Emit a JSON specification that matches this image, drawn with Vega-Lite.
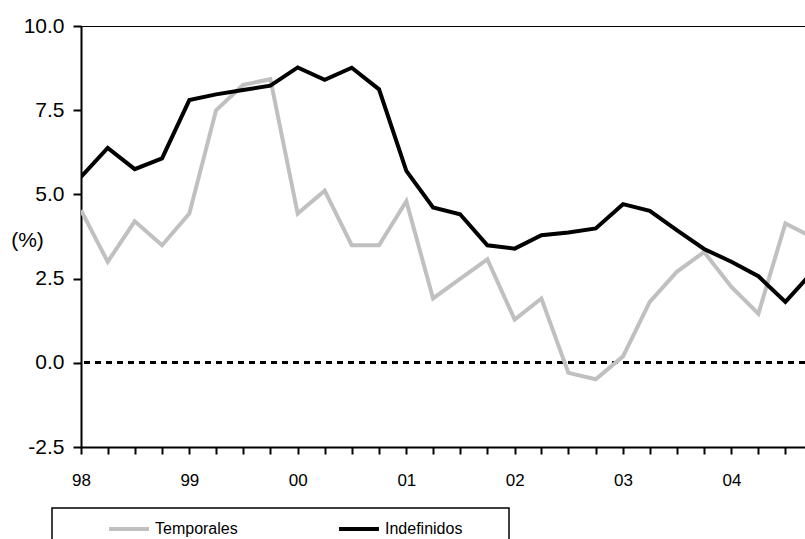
{
  "$schema": "https://vega.github.io/schema/vega-lite/v6.json",
  "width": 724,
  "height": 421,
  "autosize": {"type": "none"},
  "padding": {"left": 81, "top": 26, "right": 0, "bottom": 92},
  "background": "white",
  "config": {
    "view": {"stroke": "black", "strokeWidth": 1},
    "font": "Liberation Sans",
    "axis": {"grid": false, "domainColor": "black", "tickColor": "black", "labelColor": "black", "titleColor": "black"},
    "legend": {"strokeWidth": 1.5}
  },
  "data": {
    "values": [
      {"fecha": "1998-01-01", "serie": "Temporales", "valor": 4.53},
      {"fecha": "1998-04-01", "serie": "Temporales", "valor": 3.0},
      {"fecha": "1998-07-01", "serie": "Temporales", "valor": 4.2},
      {"fecha": "1998-10-01", "serie": "Temporales", "valor": 3.49},
      {"fecha": "1999-01-01", "serie": "Temporales", "valor": 4.43},
      {"fecha": "1999-04-01", "serie": "Temporales", "valor": 7.5},
      {"fecha": "1999-07-01", "serie": "Temporales", "valor": 8.25},
      {"fecha": "1999-10-01", "serie": "Temporales", "valor": 8.42},
      {"fecha": "2000-01-01", "serie": "Temporales", "valor": 4.43},
      {"fecha": "2000-04-01", "serie": "Temporales", "valor": 5.11},
      {"fecha": "2000-07-01", "serie": "Temporales", "valor": 3.49},
      {"fecha": "2000-10-01", "serie": "Temporales", "valor": 3.49},
      {"fecha": "2001-01-01", "serie": "Temporales", "valor": 4.8},
      {"fecha": "2001-04-01", "serie": "Temporales", "valor": 1.91},
      {"fecha": "2001-07-01", "serie": "Temporales", "valor": 2.49},
      {"fecha": "2001-10-01", "serie": "Temporales", "valor": 3.07},
      {"fecha": "2002-01-01", "serie": "Temporales", "valor": 1.28},
      {"fecha": "2002-04-01", "serie": "Temporales", "valor": 1.91},
      {"fecha": "2002-07-01", "serie": "Temporales", "valor": -0.3},
      {"fecha": "2002-10-01", "serie": "Temporales", "valor": -0.49},
      {"fecha": "2003-01-01", "serie": "Temporales", "valor": 0.19},
      {"fecha": "2003-04-01", "serie": "Temporales", "valor": 1.81},
      {"fecha": "2003-07-01", "serie": "Temporales", "valor": 2.7},
      {"fecha": "2003-10-01", "serie": "Temporales", "valor": 3.29},
      {"fecha": "2004-01-01", "serie": "Temporales", "valor": 2.25},
      {"fecha": "2004-04-01", "serie": "Temporales", "valor": 1.46},
      {"fecha": "2004-07-01", "serie": "Temporales", "valor": 4.14},
      {"fecha": "2004-10-01", "serie": "Temporales", "valor": 3.72},
      {"fecha": "1998-01-01", "serie": "Indefinidos", "valor": 5.52},
      {"fecha": "1998-04-01", "serie": "Indefinidos", "valor": 6.38},
      {"fecha": "1998-07-01", "serie": "Indefinidos", "valor": 5.75},
      {"fecha": "1998-10-01", "serie": "Indefinidos", "valor": 6.07},
      {"fecha": "1999-01-01", "serie": "Indefinidos", "valor": 7.8},
      {"fecha": "1999-04-01", "serie": "Indefinidos", "valor": 7.97},
      {"fecha": "1999-07-01", "serie": "Indefinidos", "valor": 8.1},
      {"fecha": "1999-10-01", "serie": "Indefinidos", "valor": 8.23},
      {"fecha": "2000-01-01", "serie": "Indefinidos", "valor": 8.77},
      {"fecha": "2000-04-01", "serie": "Indefinidos", "valor": 8.4},
      {"fecha": "2000-07-01", "serie": "Indefinidos", "valor": 8.76},
      {"fecha": "2000-10-01", "serie": "Indefinidos", "valor": 8.12},
      {"fecha": "2001-01-01", "serie": "Indefinidos", "valor": 5.7},
      {"fecha": "2001-04-01", "serie": "Indefinidos", "valor": 4.61},
      {"fecha": "2001-07-01", "serie": "Indefinidos", "valor": 4.41},
      {"fecha": "2001-10-01", "serie": "Indefinidos", "valor": 3.49},
      {"fecha": "2002-01-01", "serie": "Indefinidos", "valor": 3.39},
      {"fecha": "2002-04-01", "serie": "Indefinidos", "valor": 3.79},
      {"fecha": "2002-07-01", "serie": "Indefinidos", "valor": 3.87},
      {"fecha": "2002-10-01", "serie": "Indefinidos", "valor": 3.99},
      {"fecha": "2003-01-01", "serie": "Indefinidos", "valor": 4.71},
      {"fecha": "2003-04-01", "serie": "Indefinidos", "valor": 4.51},
      {"fecha": "2003-07-01", "serie": "Indefinidos", "valor": 3.94},
      {"fecha": "2003-10-01", "serie": "Indefinidos", "valor": 3.38},
      {"fecha": "2004-01-01", "serie": "Indefinidos", "valor": 3.0},
      {"fecha": "2004-04-01", "serie": "Indefinidos", "valor": 2.57},
      {"fecha": "2004-07-01", "serie": "Indefinidos", "valor": 1.81},
      {"fecha": "2004-10-01", "serie": "Indefinidos", "valor": 2.7}
    ]
  },
  "layer": [
    {
      "mark": {"type": "rule", "strokeDash": [6, 5], "strokeWidth": 2.5, "color": "black"},
      "encoding": {"y": {"datum": 0, "type": "quantitative"}}
    },
    {
      "mark": {"type": "line", "strokeWidth": 4, "clip": true},
      "encoding": {
        "x": {
          "field": "fecha",
          "type": "temporal",
          "scale": {"type": "utc", "domain": [{"year": 1998, "month": 1, "date": 1, "utc": true}, {"year": 2004, "month": 9, "date": 5, "utc": true}]},
          "axis": {
            "title": null,
            "values": [
              {"year": 1998, "month": 1, "date": 1, "utc": true}, {"year": 1998, "month": 4, "date": 1, "utc": true}, {"year": 1998, "month": 7, "date": 1, "utc": true}, {"year": 1998, "month": 10, "date": 1, "utc": true},
              {"year": 1999, "month": 1, "date": 1, "utc": true}, {"year": 1999, "month": 4, "date": 1, "utc": true}, {"year": 1999, "month": 7, "date": 1, "utc": true}, {"year": 1999, "month": 10, "date": 1, "utc": true},
              {"year": 2000, "month": 1, "date": 1, "utc": true}, {"year": 2000, "month": 4, "date": 1, "utc": true}, {"year": 2000, "month": 7, "date": 1, "utc": true}, {"year": 2000, "month": 10, "date": 1, "utc": true},
              {"year": 2001, "month": 1, "date": 1, "utc": true}, {"year": 2001, "month": 4, "date": 1, "utc": true}, {"year": 2001, "month": 7, "date": 1, "utc": true}, {"year": 2001, "month": 10, "date": 1, "utc": true},
              {"year": 2002, "month": 1, "date": 1, "utc": true}, {"year": 2002, "month": 4, "date": 1, "utc": true}, {"year": 2002, "month": 7, "date": 1, "utc": true}, {"year": 2002, "month": 10, "date": 1, "utc": true},
              {"year": 2003, "month": 1, "date": 1, "utc": true}, {"year": 2003, "month": 4, "date": 1, "utc": true}, {"year": 2003, "month": 7, "date": 1, "utc": true}, {"year": 2003, "month": 10, "date": 1, "utc": true},
              {"year": 2004, "month": 1, "date": 1, "utc": true}, {"year": 2004, "month": 4, "date": 1, "utc": true}, {"year": 2004, "month": 7, "date": 1, "utc": true}
            ],
            "labelExpr": "utcmonth(datum.value) == 0 ? utcFormat(datum.value, '%y') : ''",
            "labelFontSize": 17,
            "labelPadding": 18,
            "labelFlush": false,
            "labelOverlap": false,
            "tickSize": 7,
            "tickWidth": 2,
            "domainWidth": 2
          }
        },
        "y": {
          "field": "valor",
          "type": "quantitative",
          "scale": {"domain": [-2.5, 10], "nice": false, "zero": false},
          "axis": {
            "title": "(%)",
            "titleAngle": 0,
            "titleFontSize": 21,
            "titleFontWeight": "normal",
            "titleAlign": "center",
            "titleBaseline": "middle",
            "titleX": -54,
            "titleY": 214,
            "values": [-2.5, 0, 2.5, 5, 7.5, 10],
            "labelExpr": "datum.value < 0 ? '-' + format(-datum.value, '.1f') : format(datum.value, '.1f')",
            "labelFontSize": 21,
            "labelPadding": 9,
            "tickSize": 8,
            "tickWidth": 2,
            "domainWidth": 2
          }
        },
        "color": {
          "field": "serie",
          "type": "nominal",
          "scale": {"domain": ["Temporales", "Indefinidos"], "range": ["#c0c0c0", "#000000"]},
          "legend": {
            "title": "\u00a0",
            "titleOrient": "right",
            "titleFontSize": 40,
            "titlePadding": 43,
            "orient": "none",
            "legendX": -29,
            "legendY": 482,
            "direction": "horizontal",
            "symbolType": "M-1.33,0H1.33",
            "symbolSize": 900,
            "symbolStrokeWidth": 4,
            "symbolOffset": 56,
            "labelFontSize": 16,
            "labelOffset": 9,
            "columnPadding": 48,
            "padding": 4,
            "strokeColor": "black"
          }
        },
        "order": {"field": "fecha", "type": "temporal"}
      }
    }
  ]
}
